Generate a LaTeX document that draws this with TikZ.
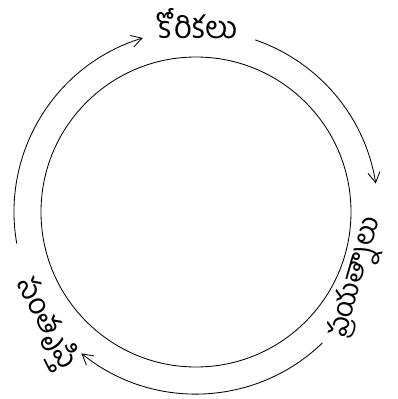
\documentclass[tikz,border=0pt]{standalone}
\usepackage{fontspec}
\newfontfamily\telugu[Script=Telugu]{Hind Guntur}
\usetikzlibrary{arrows.meta}
\begin{document}
\begin{tikzpicture}[font=\telugu\fontsize{22}{26}\selectfont, line width=0.6pt, >={Straight Barb[length=2.6mm,width=3mm]}]
	\useasboundingbox (-4.9,-4.675) rectangle (5.05,5.3);
	\draw (0,0) circle[radius=3.875];
	\node (want) at (0.03,4.72) {కోరికలు};
	\node[rotate=74, inner sep=0pt, font=\telugu\fontsize{20}{24}\selectfont] (try) at (4.05,-1.65) {ప్రయత్నాలు};
	\node[rotate=-63, inner sep=0pt, font=\telugu\fontsize{21}{24}\selectfont] (joy) at (-3.76,-2.8) {సంతృప్తి};
	\foreach \s/\e in {71/9, -46/-129, 190/107} {
		\coordinate (arc\s) at (\s:4.55);
		\draw[->] (arc\s) arc[start angle=\s, end angle=\e, radius=4.55];
	}
\end{tikzpicture}
\end{document}
